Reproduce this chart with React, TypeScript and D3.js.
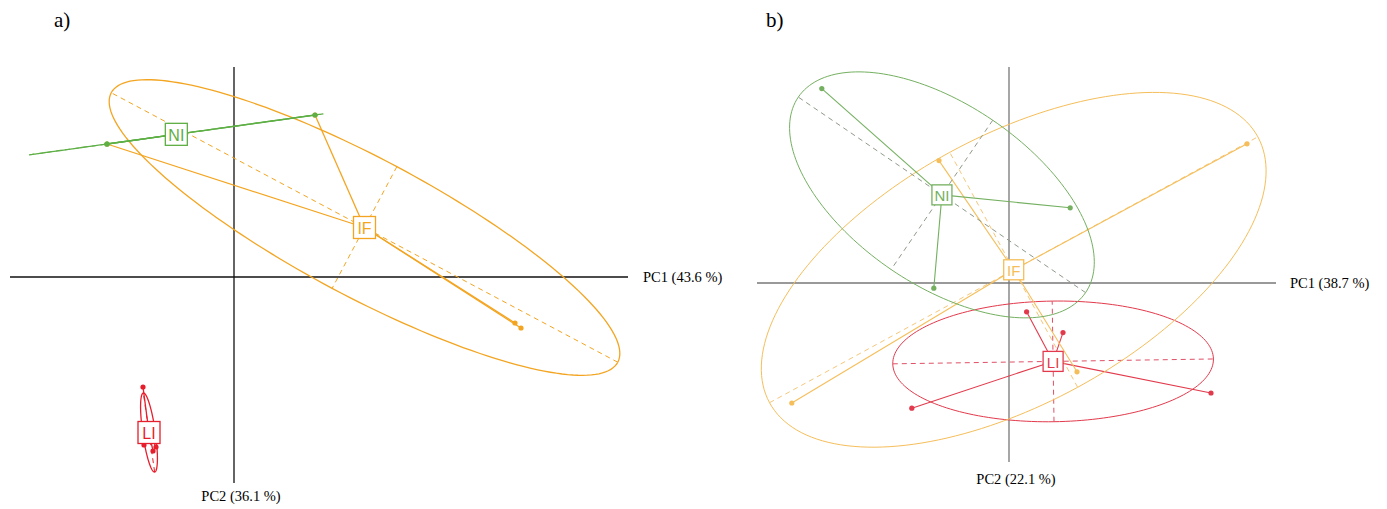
import React from "react";
import * as d3 from "d3";

// ---------- DATA (PCA scores, group membership) ----------
// Panel a
const aGroups = ["NI", "IF", "LI"];
const aNI: [number, number][] = [[-3.175, 3.325], [-3.175, 3.325], [2.025, 4.05]];
const aIF: [number, number][] = [[-3.175, 3.325], [2.025, 4.05], [7.025, -1.15], [7.175, -1.275]];
const aLI: [number, number][] = [[-2.275, -2.75], [-2.25, -4.2], [-1.95, -4.25], [-2.025, -4.35]];
const aXDomain = [-5.6, 9.85];
const aYDomain = [-5.15, 5.25];
const aXLabel = "PC1 (43.6 %)";
const aYLabel = "PC2 (36.1 %)";

// Panel b
const bGroups = ["NI", "IF", "LI"];
const bNI: [number, number][] = [[-4.68, 4.86], [1.53, 1.88], [-1.88, -0.13]];
const bIF: [number, number][] = [[5.95, 3.48], [-1.75, 3.06], [-5.43, -3.0], [1.7, -2.22]];
const bLI: [number, number][] = [[-2.43, -3.13], [5.05, -2.75], [0.44, -0.72], [1.35, -1.24]];
const bXDomain = [-6.3, 6.675];
const bYDomain = [-4.475, 5.4];
const bXLabel = "PC1 (38.7 %)";
const bYLabel = "PC2 (22.1 %)";

const CELLIPSE = 1.5;

type Pt = [number, number];

function stats(pts: Pt[]) {
  const n = pts.length;
  const mx = d3.mean(pts, (p) => p[0])!;
  const my = d3.mean(pts, (p) => p[1])!;
  let a = 0, b = 0, c = 0;
  pts.forEach(([x, y]) => {
    a += (x - mx) * (x - mx);
    b += (x - mx) * (y - my);
    c += (y - my) * (y - my);
  });
  a /= n; b /= n; c /= n;
  const h = (a + c) / 2;
  const disc = Math.sqrt(Math.max(0, ((a - c) / 2) ** 2 + b * b));
  const l1 = h + disc;
  const l2 = Math.max(0, h - disc);
  let v1: Pt;
  if (Math.abs(b) < 1e-12) v1 = a >= c ? [1, 0] : [0, 1];
  else {
    const vx = b, vy = l1 - a;
    const len = Math.hypot(vx, vy);
    v1 = [vx / len, vy / len];
  }
  const v2: Pt = [-v1[1], v1[0]];
  return { mx, my, r1: CELLIPSE * Math.sqrt(l1), r2: CELLIPSE * Math.sqrt(l2), v1, v2 };
}

interface PanelProps {
  groups: string[];
  data: Pt[][];
  colors: string[];
  axisColors: string[];
  xDomain: number[];
  yDomain: number[];
  xRange: [number, number];
  yRange: [number, number];
  axisStroke: string;
  xLabel: string;
  yLabel: string;
  xLabelPos: [number, number];
  yLabelPos: [number, number];
  boxSize: number;
  fontSize: number;
  lineWidth: number;
  ellipseWidth: number;
}

function Panel(p: PanelProps) {
  const x = d3.scaleLinear().domain(p.xDomain).range(p.xRange);
  const y = d3.scaleLinear().domain(p.yDomain).range(p.yRange);
  const line = d3.line<Pt>().x((d) => x(d[0])).y((d) => y(d[1]));
  const ts = d3.range(0, 2 * Math.PI + 0.001, Math.PI / 90);
  const order = d3.range(p.groups.length).reverse();

  return (
    <g>
      <line x1={x(p.xDomain[0])} x2={x(p.xDomain[1])} y1={y(0)} y2={y(0)} stroke={p.axisStroke} strokeWidth={1.3} />
      <line x1={x(0)} x2={x(0)} y1={y(p.yDomain[0])} y2={y(p.yDomain[1])} stroke={p.axisStroke} strokeWidth={1.3} />
      <text x={p.xLabelPos[0]} y={p.xLabelPos[1]} fontFamily="'Liberation Serif', 'Times New Roman', serif" fontSize={14.5}>{p.xLabel}</text>
      <text x={p.yLabelPos[0]} y={p.yLabelPos[1]} textAnchor="middle" fontFamily="'Liberation Serif', 'Times New Roman', serif" fontSize={14.5}>{p.yLabel}</text>
      {order.map((gi) => {
        const g = p.groups[gi];
        const pts = p.data[gi];
        const s = stats(pts);
        const col = p.colors[gi];
        const ell: Pt[] = ts.map((t) => [
          s.mx + s.r1 * Math.cos(t) * s.v1[0] + s.r2 * Math.sin(t) * s.v2[0],
          s.my + s.r1 * Math.cos(t) * s.v1[1] + s.r2 * Math.sin(t) * s.v2[1],
        ]);
        const ax1: Pt[] = [[s.mx - s.r1 * s.v1[0], s.my - s.r1 * s.v1[1]], [s.mx + s.r1 * s.v1[0], s.my + s.r1 * s.v1[1]]];
        const ax2: Pt[] = [[s.mx - s.r2 * s.v2[0], s.my - s.r2 * s.v2[1]], [s.mx + s.r2 * s.v2[0], s.my + s.r2 * s.v2[1]]];
        return (
          <g key={g}>
            <path d={line(ell)!} fill="none" stroke={col} strokeWidth={p.ellipseWidth} />
            <path d={line(ax1)!} fill="none" stroke={p.axisColors[gi]} strokeWidth={1} strokeDasharray="5,4" />
            <path d={line(ax2)!} fill="none" stroke={p.axisColors[gi]} strokeWidth={1} strokeDasharray="5,4" />
            {pts.map((pt, i) => (
              <line key={"l" + i} x1={x(s.mx)} y1={y(s.my)} x2={x(pt[0])} y2={y(pt[1])} stroke={col} strokeWidth={p.lineWidth} />
            ))}
            {pts.map((pt, i) => (
              <circle key={"c" + i} cx={x(pt[0])} cy={y(pt[1])} r={2.6} fill={col} />
            ))}
          </g>
        );
      })}
      {p.groups.map((g, gi) => {
        const s = stats(p.data[gi]);
        const col = p.colors[gi];
        const cx = x(s.mx), cy = y(s.my);
        return (
          <g key={"lab" + g}>
            <rect x={cx - p.boxSize / 2} y={cy - p.boxSize / 2} width={p.boxSize} height={p.boxSize} fill="white" stroke={col} strokeWidth={1.3} />
            <text x={cx} y={cy + 1} textAnchor="middle" dominantBaseline="central" fill={col} fontFamily="'Liberation Sans', Arial, sans-serif" fontSize={p.fontSize}>{g}</text>
          </g>
        );
      })}
    </g>
  );
}

export default function App() {
  return (
    <svg width={1387} height={509} style={{ position: "absolute", left: 0, top: 0, background: "white" }}>
      <text x={54} y={27} fontFamily="'Liberation Serif', 'Times New Roman', serif" fontSize={21}>a)</text>
      <text x={766} y={27} fontFamily="'Liberation Serif', 'Times New Roman', serif" fontSize={21}>b)</text>
      <Panel
        groups={aGroups}
        data={[aNI, aIF, aLI]}
        colors={["#5eaf45", "#f3a521", "#e61e2c"]}
        axisColors={["#5eaf45", "#f3a521", "#e61e2c"]}
        xDomain={aXDomain}
        yDomain={aYDomain}
        xRange={[10, 628]}
        yRange={[483, 67]}
        axisStroke="#111"
        xLabel={aXLabel}
        yLabel={aYLabel}
        xLabelPos={[643, 282]}
        yLabelPos={[241, 501]}
        boxSize={22}
        fontSize={16}
        lineWidth={1.3}
        ellipseWidth={1.3}
      />
      <Panel
        groups={bGroups}
        data={[bNI, bIF, bLI]}
        colors={["#74b060", "#f5be5a", "#e23a4c"]}
        axisColors={["#8f9a8a", "#f5c77a", "#e05067"]}
        xDomain={bXDomain}
        yDomain={bYDomain}
        xRange={[757, 1276]}
        yRange={[462, 67]}
        axisStroke="#777"
        xLabel={bXLabel}
        yLabel={bYLabel}
        xLabelPos={[1290, 288]}
        yLabelPos={[1016, 484]}
        boxSize={20}
        fontSize={15}
        lineWidth={1.1}
        ellipseWidth={1}
      />
    </svg>
  );
}
